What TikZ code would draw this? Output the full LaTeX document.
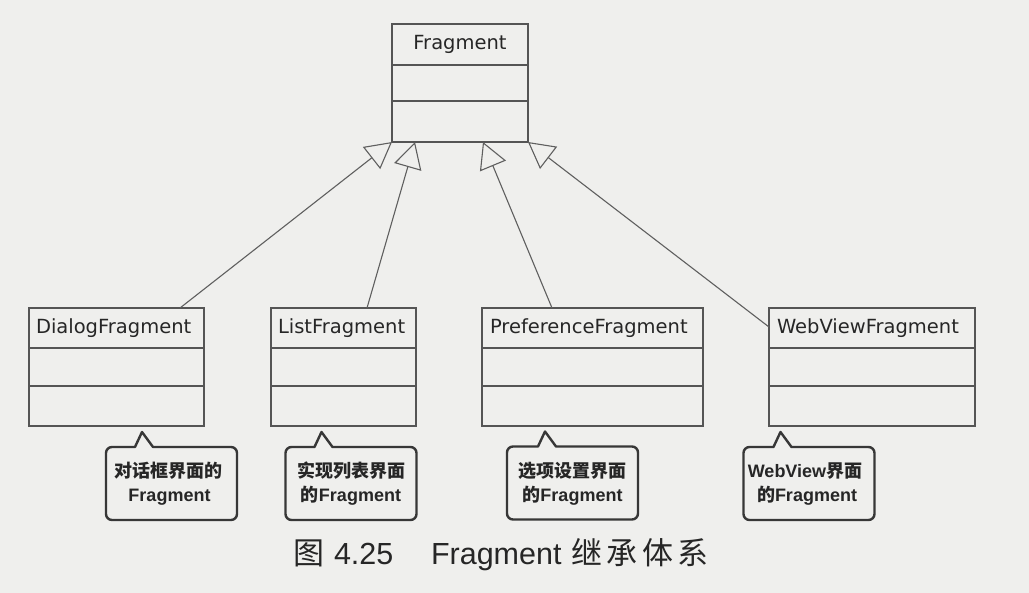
\documentclass[tikz,border=0pt]{standalone}
\usepackage{fontspec}
\setmainfont{DejaVu Sans}
\newfontfamily\clsfont{DejaVu Sans}
\newfontfamily\latfont{Liberation Sans}
\newfontfamily\cjkfont{Noto Sans CJK SC}
\newfontfamily\cjkcapfont{Noto Sans CJK SC}[LetterSpace=15]
\usetikzlibrary{calc,arrows.meta}
\definecolor{bgc}{RGB}{239,239,237}
\definecolor{boxline}{RGB}{85,85,85}
\definecolor{connc}{RGB}{95,95,95}
\definecolor{calloutc}{RGB}{55,55,55}
\definecolor{txtc}{RGB}{38,38,38}
\begin{document}
\begin{tikzpicture}[x=1pt,y=-1pt,
  classbox/.style={draw=boxline, line width=1.4pt, inner sep=0pt, outer sep=0pt},
  divider/.style={draw=boxline, line width=1.4pt},
  clsname/.style={inner sep=0pt, outer sep=0pt, text=txtc, font=\clsfont\fontsize{19.5pt}{22pt}\selectfont},
  inherit/.style={draw=connc, line width=1.1pt, -{Triangle[open, length=26pt, width=28pt]}},
  calloutnode/.style={inner sep=0pt, outer sep=0pt, minimum width=131pt, minimum height=73pt},
  calloutborder/.style={draw=calloutc, line width=2.4pt, line join=round},
  ctext/.style={inner sep=0pt, outer sep=0pt, text=txtc, font=\fontsize{18pt}{22pt}\selectfont\bfseries},
  captext/.style={inner sep=0pt, outer sep=0pt, text=txtc, anchor=base west}
]
\fill[bgc] (0,0) rectangle (1029,593);
\useasboundingbox (0,0) rectangle (1029,593);

% ---------- base class ----------
\node[classbox, minimum width=136pt, minimum height=118pt] (frag) at (460,83) {};
\draw[divider] ($(frag.north west)+(0,41)$) -- ($(frag.north east)+(0,41)$);
\draw[divider] ($(frag.north west)+(0,77)$) -- ($(frag.north east)+(0,77)$);
\node[clsname, anchor=base] (fragt) at ($(frag.north)+(0,26)$) {Fragment};

% ---------- subclasses ----------
\node[classbox, minimum width=175pt, minimum height=118pt] (dialog) at (116.5,367) {};
\node[classbox, minimum width=145pt, minimum height=118pt] (list) at (343.5,367) {};
\node[classbox, minimum width=221pt, minimum height=118pt] (pref) at (592.5,367) {};
\node[classbox, minimum width=206pt, minimum height=118pt] (web) at (872,367) {};
\foreach \n in {dialog,list,pref,web}{
  \draw[divider] ($(\n.north west)+(0,40)$) -- ($(\n.north east)+(0,40)$);
  \draw[divider] ($(\n.north west)+(0,78)$) -- ($(\n.north east)+(0,78)$);
}
\node[clsname, anchor=base west] (dialogt) at ($(dialog.north west)+(7,25.5)$) {DialogFragment};
\node[clsname, anchor=base west] (listt) at ($(list.north west)+(7,25.5)$) {ListFragment};
\node[clsname, anchor=base west] (preft) at ($(pref.north west)+(8,25.5)$) {PreferenceFragment};
\node[clsname, anchor=base west] (webt) at ($(web.north west)+(8,25.5)$) {WebViewFragment};

% ---------- inheritance connectors ----------
\draw[inherit] ($(dialog.north east)+(-24,0)$) -- (frag.south west);
\draw[inherit] ($(list.north)+(23.5,0)$) -- ($(frag.south west)+(23,0)$);
\draw[inherit] ($(pref.north west)+(70,0)$) -- ($(frag.south east)+(-45,0)$);
\draw[inherit] ($(web.north west)+(0,19)$) -- (frag.south east);

% ---------- callouts ----------
\node[calloutnode] (c1) at (171.5,483.5) {};
\node[calloutnode] (c2) at (351,483.5) {};
\node[calloutnode] (c3) at (572.5,483) {};
\node[calloutnode] (c4) at (809,483.5) {};
\foreach \c/\t in {c1/36, c2/36, c3/38, c4/37}{
  \draw[calloutborder] ($(\c.north west)+(\t-7,0)$) -- ($(\c.north west)+(\t,-15)$) -- ($(\c.north west)+(\t+11,0)$)
    [rounded corners=6pt] -- (\c.north east) -- (\c.south east) -- (\c.south west) -- (\c.north west) [sharp corners] -- cycle;
}
\node[ctext, anchor=base] (c1a) at ($(c1.north)+(-3,31)$) {\cjkfont\bfseries 对话框界面的};
\node[ctext, anchor=base] (c1b) at ($(c1.north)+(-2,55)$) {\latfont\bfseries Fragment};
\node[ctext, anchor=base] (c2a) at ($(c2.north)+(0,31)$) {\cjkfont\bfseries 实现列表界面};
\node[ctext, anchor=base] (c2b) at ($(c2.north)+(0,55)$) {\cjkfont\bfseries 的\latfont\bfseries Fragment};
\node[ctext, anchor=base] (c3a) at ($(c3.north)+(0,31)$) {\cjkfont\bfseries 选项设置界面};
\node[ctext, anchor=base] (c3b) at ($(c3.north)+(0,55)$) {\cjkfont\bfseries 的\latfont\bfseries Fragment};
\node[ctext, anchor=base] (c4a) at ($(c4.north)+(-4,31)$) {\latfont\bfseries WebView\cjkfont\bfseries 界面};
\node[ctext, anchor=base] (c4b) at ($(c4.north)+(-2,55)$) {\cjkfont\bfseries 的\latfont\bfseries Fragment};

% ---------- caption ----------
\node[captext, font=\cjkfont\fontsize{31pt}{34pt}\selectfont] (cap1) at (293,565) {图};
\node[captext, font=\latfont\fontsize{30.5pt}{34pt}\selectfont] (cap2) at (334,565) {4.25};
\node[captext, font=\latfont\fontsize{30.5pt}{34pt}\selectfont] (cap3) at (431,565) {Fragment};
\node[captext, font=\cjkcapfont\fontsize{31pt}{34pt}\selectfont] (cap4) at (571,565) {继承体系};
\end{tikzpicture}
\end{document}
